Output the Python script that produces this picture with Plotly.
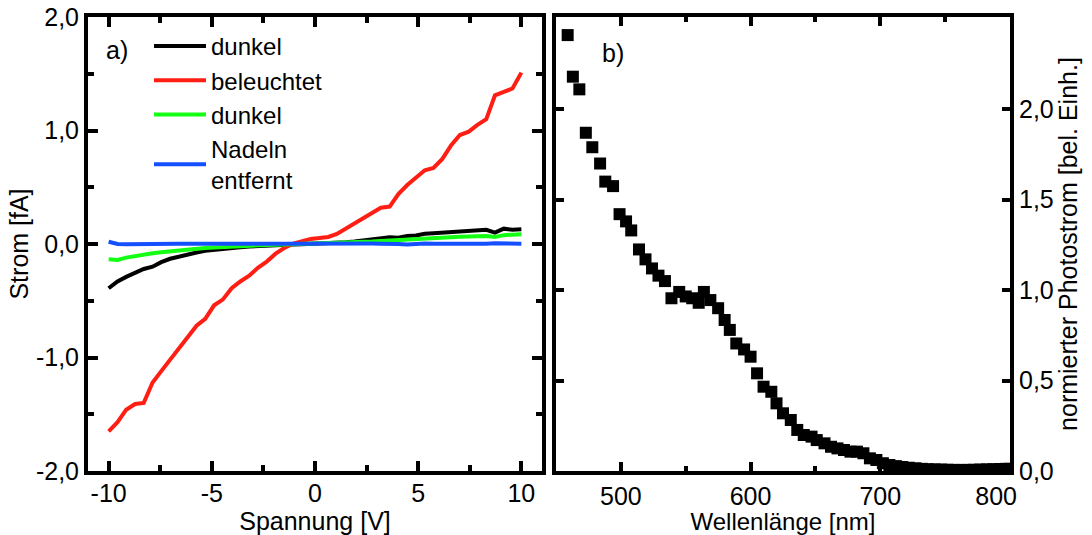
import plotly.graph_objects as go

# ---------------- data ----------------
voltage = [-10.0, -9.57, -9.15, -8.72, -8.30, -7.87, -7.45, -7.02, -6.60, -6.17,
           -5.74, -5.32, -4.89, -4.47, -4.04, -3.62, -3.19, -2.77, -2.34, -1.91,
           -1.49, -1.06, -0.64, -0.21, 0.21, 0.64, 1.06, 1.49, 1.91, 2.34,
           2.77, 3.19, 3.62, 4.04, 4.47, 4.89, 5.32, 5.74, 6.17, 6.60,
           7.02, 7.45, 7.87, 8.30, 8.72, 9.15, 9.57, 10.0]

dark1 = [-0.39, -0.33, -0.29, -0.25, -0.22, -0.20, -0.16, -0.13, -0.11, -0.09,
         -0.075, -0.06, -0.05, -0.042, -0.035, -0.028, -0.022, -0.017, -0.013, -0.010,
         -0.008, -0.005, -0.002, 0.0, 0.003, 0.006, 0.010, 0.016, 0.022, 0.030,
         0.036, 0.045, 0.060, 0.055, 0.070, 0.075, 0.090, 0.095, 0.100, 0.105,
         0.110, 0.115, 0.120, 0.125, 0.100, 0.135, 0.125, 0.130]

lit = [-1.65, -1.57, -1.46, -1.41, -1.40, -1.22, -1.12, -1.02, -0.91, -0.81,
       -0.72, -0.66, -0.54, -0.49, -0.39, -0.33, -0.28, -0.21, -0.155, -0.085,
       -0.035, 0.003, 0.028, 0.045, 0.052, 0.062, 0.088, 0.135, 0.18, 0.23,
       0.28, 0.32, 0.33, 0.44, 0.52, 0.58, 0.65, 0.67, 0.75, 0.87,
       0.96, 0.99, 1.05, 1.10, 1.31, 1.34, 1.37, 1.51]

dark2 = [-0.135, -0.14, -0.12, -0.105, -0.095, -0.082, -0.072, -0.063, -0.055, -0.048,
         -0.041, -0.035, -0.030, -0.025, -0.020, -0.016, -0.013, -0.010, -0.008, -0.006,
         -0.004, -0.003, -0.001, 0.0, 0.002, 0.004, 0.007, 0.010, 0.014, 0.018,
         0.022, 0.027, 0.032, 0.036, 0.040, 0.044, 0.048, 0.052, 0.056, 0.060,
         0.063, 0.066, 0.068, 0.070, 0.062, 0.078, 0.082, 0.085]

needles_removed = [0.020, 0.0, -0.002, 0.0, 0.002, 0.002, 0.003, 0.002, 0.003, 0.002,
                   0.003, 0.002, 0.002, 0.003, 0.002, 0.003, 0.002, 0.003, 0.002, 0.003,
                   0.002, 0.003, 0.002, 0.003, 0.002, 0.003, 0.004, 0.003, 0.002, 0.003,
                   0.004, 0.003, 0.004, 0.001, -0.004, 0.002, 0.004, 0.003, 0.002, 0.004,
                   0.003, 0.002, 0.003, 0.002, 0.006, 0.003, 0.002, 0.003]

wavelength = [459, 463, 468, 473, 478, 484, 488, 494, 499, 504,
              508, 514, 519, 524, 529, 534, 539, 545, 550, 555,
              560, 564, 569, 575, 580, 584, 589, 595, 600, 605,
              610, 616, 620, 625, 631, 636, 641, 647, 651, 657,
              662, 667, 672, 677, 682, 687, 692, 697, 702, 707,
              712, 717, 722, 727, 732, 737, 742, 747, 752, 757,
              762, 767, 772, 777, 782, 787, 792, 797, 800]

photocurrent = [2.41, 2.18, 2.11, 1.87, 1.79, 1.70, 1.60, 1.575, 1.42, 1.38,
                1.33, 1.225, 1.17, 1.12, 1.08, 1.05, 0.955, 0.99, 0.965, 0.955,
                0.93, 0.99, 0.945, 0.90, 0.835, 0.78, 0.705, 0.672, 0.632, 0.54,
                0.466, 0.438, 0.374, 0.319, 0.282, 0.227, 0.199, 0.19, 0.171, 0.153,
                0.134, 0.125, 0.116, 0.107, 0.107, 0.098, 0.07, 0.061, 0.043, 0.033,
                0.027, 0.022, 0.018, 0.015, 0.012, 0.010, 0.009, 0.008, 0.007, 0.006,
                0.006, 0.006, 0.007, 0.008, 0.009, 0.010, 0.011, 0.012, 0.012]

series_names = ["dunkel", "beleuchtet", "dunkel", "Nadeln<br>entfernt"]
series_colors = ["#000000", "#ff1e14", "#14ff14", "#1450ff"]

x1_ticks = [-10, -5, 0, 5, 10]
x1_labels = ["-10", "-5", "0", "5", "10"]
x1_minor = [-7.5, -2.5, 2.5, 7.5]
y1_ticks = [-2, -1, 0, 1, 2]
y1_labels = ["-2,0", "-1,0", "0,0", "1,0", "2,0"]
y1_minor = [-1.5, -0.5, 0.5, 1.5]
x2_ticks = [500, 600, 700, 800]
x2_labels = ["500", "600", "700", "800\u00a0\u00a0\u00a0\u00a0"]
x2_minor = [550, 650, 750]
y2_ticks = [0, 0.5, 1.0, 1.5, 2.0]
y2_labels = ["0,0", "0,5", "1,0", "1,5", "2,0"]

# ---------------- figure ----------------
FONT = "Liberation Sans, Arial, sans-serif"
FS = 25
W, H = 1092, 535
ML, MR, MT, MB = 88, 82, 17, 64
PW = W - ML - MR
PH = H - MT - MB


def py(pix):
    """figure pixel row (from top) -> paper y"""
    return (H - MB - pix) / PH


def px(pix):
    return (pix - ML) / PW


fig = go.Figure()
for ys, name, col in zip([dark1, lit, dark2, needles_removed], series_names, series_colors):
    fig.add_trace(go.Scatter(x=voltage, y=ys, mode="lines", name=name,
                             line=dict(color=col, width=4), xaxis="x", yaxis="y"))

fig.add_trace(go.Scatter(x=wavelength, y=photocurrent, mode="markers", showlegend=False,
                         marker=dict(symbol="square", size=12, color="#000000",
                                     line=dict(width=0)),
                         xaxis="x2", yaxis="y2"))

axis_common = dict(showline=True, linewidth=4, linecolor="#000000", mirror="ticks",
                   ticks="inside", tickwidth=4, tickcolor="#000000",
                   showgrid=False, zeroline=False, automargin=False,
                   tickfont=dict(family=FONT, size=FS, color="#000000"))


def minor(vals, length=6):
    return dict(tickvals=vals, ticks="inside", ticklen=length, tickwidth=4,
                tickcolor="#000000", showgrid=False)


fig.update_layout(
    template="none",
    width=W, height=H,
    margin=dict(l=ML, r=MR, t=MT, b=MB, pad=0, autoexpand=False),
    paper_bgcolor="white", plot_bgcolor="white",
    font=dict(family=FONT, size=FS, color="#000000"),
    xaxis=dict(domain=[0, 454 / PW], range=[-11, 11], anchor="y",
               tickmode="array", tickvals=x1_ticks, ticktext=x1_labels, ticklen=10,
               minor=minor(x1_minor), ticklabelstandoff=-3,
               title=dict(text="Spannung [V]", font=dict(size=FS), standoff=16),
               **axis_common),
    yaxis=dict(domain=[0, 1], range=[-2, 2], anchor="x",
               tickmode="array", tickvals=y1_ticks, ticktext=y1_labels, ticklen=10,
               minor=minor(y1_minor),
               title=dict(text="Strom [fA]", font=dict(size=FS), standoff=1),
               **axis_common),
    xaxis2=dict(domain=[px(556), 1], range=[450, 800], anchor="y2",
                tickmode="array", tickvals=x2_ticks, ticktext=x2_labels, ticklen=9,
                minor=minor(x2_minor, 5), ticklabelstandoff=0,
                title=dict(text="Wellenlänge [nm]", font=dict(size=24), standoff=16),
                **axis_common),
    yaxis2=dict(domain=[0, 1], range=[0, 2.51], anchor="x2", side="right",
                tickmode="array", tickvals=y2_ticks, ticktext=y2_labels, ticklen=8,
                title=dict(text="normierter Photostrom [bel. Einh.]", font=dict(size=FS),
                           standoff=8),
                **axis_common),
    showlegend=True,
    legend=dict(x=px(149), y=py(24), xanchor="left", yanchor="top",
                bgcolor="rgba(0,0,0,0)", borderwidth=0, itemwidth=52,
                font=dict(family=FONT, size=24, color="#000000"),
                tracegroupgap=0),
    annotations=[
        dict(text="a)", xref="paper", yref="paper", x=px(117), y=py(50),
             xanchor="center", yanchor="middle", showarrow=False,
             font=dict(family=FONT, size=FS, color="#000000")),
        dict(text="b)", xref="paper", yref="paper", x=px(613), y=py(53),
             xanchor="center", yanchor="middle", showarrow=False,
             font=dict(family=FONT, size=FS, color="#000000")),
    ],
)

fig.write_html("out.html")
